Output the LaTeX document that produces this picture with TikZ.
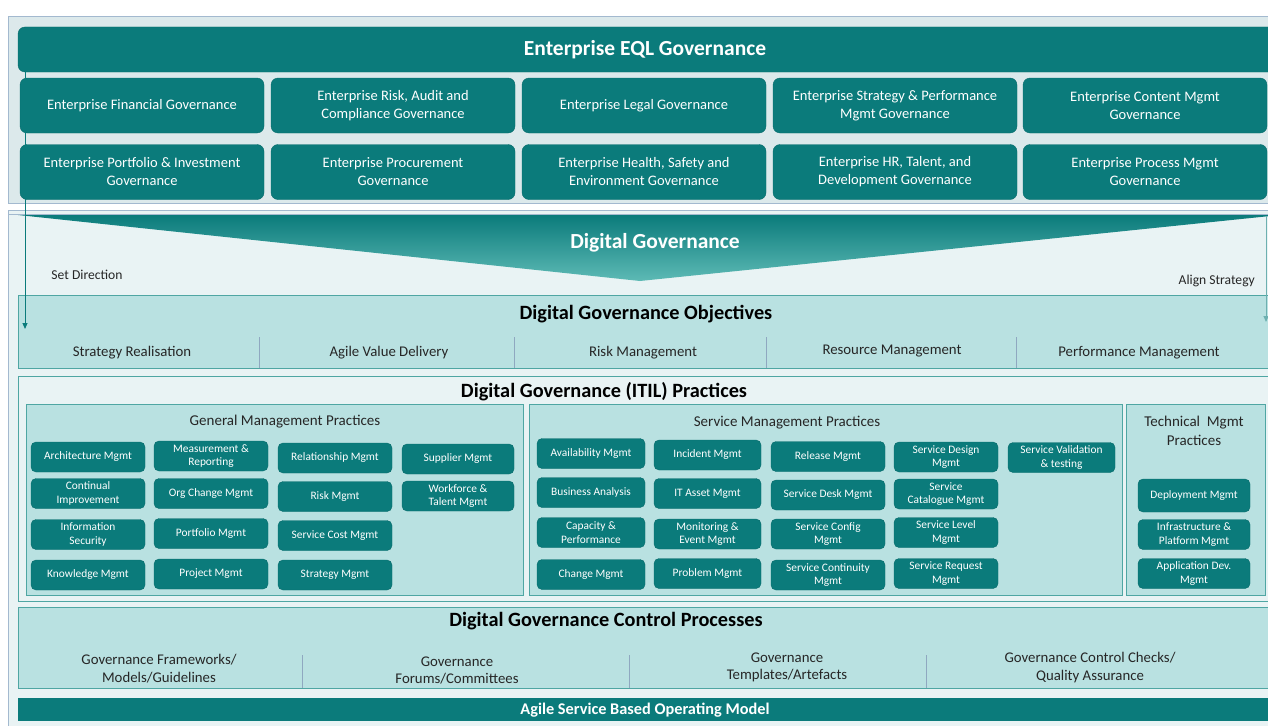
\documentclass[tikz,border=0pt]{standalone}
\usepackage{fontspec}
\setmainfont{Carlito}
\usetikzlibrary{arrows.meta}
\definecolor{teal1}{HTML}{0B7B7B}
\definecolor{tealedge}{HTML}{076C6C}
\definecolor{tealsoft}{HTML}{5DBAB5}
\definecolor{panelA}{HTML}{DCE9EB}
\definecolor{frameB}{HTML}{A3B9CF}
\definecolor{lightT}{HTML}{B9E1E1}
\definecolor{paleT}{HTML}{E9F3F4}
\definecolor{edgeT}{HTML}{4FA6A3}
\definecolor{txt}{HTML}{262626}
\definecolor{sepc}{HTML}{8FA8C0}
\begin{document}
\begin{tikzpicture}[x=1pt,y=-1pt,
  ebox/.style={draw=tealedge, fill=teal1, rounded corners=7pt, text=white, align=center,
    inner sep=0pt, minimum width=244pt, minimum height=55pt, font=\fontsize{14.5}{18}\selectfont},
  pbox/.style={draw=tealedge, fill=teal1, rounded corners=5pt, text=white, align=center,
    inner sep=0pt, minimum height=30pt, font=\fontsize{11.4}{13.6}\selectfont},
  lbl/.style={text=txt, align=center, inner sep=0pt, font=\fontsize{14.8}{17.5}\selectfont},
  small/.style={text=txt, inner sep=0pt, font=\fontsize{13.6}{16}\selectfont},
  head/.style={text=black, inner sep=0pt, font=\bfseries\fontsize{20.3}{24}\selectfont},
  whead/.style={text=white, inner sep=0pt, font=\bfseries\fontsize{21.5}{25}\selectfont},
  sub/.style={text=txt, inner sep=0pt, align=center, font=\fontsize{15}{18.5}\selectfont},
  panel/.style={draw=edgeT, line width=0.9pt},
  sep/.style={draw=sepc, line width=0.6pt},
  flow/.style={draw=teal1, line width=1pt, -{Triangle[length=6pt,width=5pt]}}
]
\useasboundingbox (0,0) rectangle (1268,725);
\fill[white] (0,0) rectangle (1268,725);

% ---------- top panel ----------
\draw[fill=panelA, draw=frameB, line width=0.8pt] (8,16) rectangle (1280,203);
\draw[fill=teal1, draw=tealedge, rounded corners=7pt] (18,27) rectangle (1285,72);
\node[whead] (eql) at (645,50) {Enterprise EQL Governance};

\node[ebox] (e1) at (142,105.5) {Enterprise Financial Governance};
\node[ebox] (e2) at (393,105.5) {Enterprise Risk, Audit and\\Compliance Governance};
\node[ebox] (e3) at (644,105.5) {Enterprise Legal Governance};
\node[ebox] (e4) at (895,105.5) {Enterprise Strategy \& Performance\\Mgmt Governance};
\node[ebox] (e5) at (1145,105.5) {Enterprise Content Mgmt\\Governance};
\node[ebox] (e6) at (142,172) {Enterprise Portfolio \& Investment\\Governance};
\node[ebox] (e7) at (393,172) {Enterprise Procurement\\Governance};
\node[ebox] (e8) at (644,172) {Enterprise Health, Safety and\\Environment Governance};
\node[ebox] (e9) at (895,172) {Enterprise HR, Talent, and\\Development Governance};
\node[ebox] (e10) at (1145,172) {Enterprise Process Mgmt\\Governance};

% ---------- lower frame ----------
\draw[fill=paleT, draw=frameB, line width=0.8pt] (8,210) rectangle (1280,735);
\draw[frameB, line width=0.6pt] (8,214) -- (1280,214);
\shade[top color=teal1, bottom color=tealsoft] (18,215) -- (1280,215) -- (640,281) -- cycle;
\node[whead] (dg) at (655,243) {Digital Governance};
\node[small] (setdir) at (87,275) {Set Direction};
\node[small, anchor=east] (align) at (1255,281) {Align Strategy};

% ---------- objectives ----------
\draw[panel, fill=lightT] (18,295) rectangle (1280,368);
\node[head] (obj) at (646,314) {Digital Governance Objectives};
\draw[sep] (259,337) -- (259,368);
\draw[sep] (514,337) -- (514,368);
\draw[sep] (766,337) -- (766,368);
\draw[sep] (1016,337) -- (1016,368);
\node[lbl] (o1) at (132,353) {Strategy Realisation};
\node[lbl] (o2) at (389,353) {Agile Value Delivery};
\node[lbl] (o3) at (643,353) {Risk Management};
\node[lbl] (o4) at (892,351) {Resource Management};
\node[lbl] (o5) at (1139,353) {Performance Management};

% ---------- ITIL practices ----------
\draw[panel, fill=paleT] (18,376) rectangle (1280,601);
\node[head] (itil) at (604,392) {Digital Governance (ITIL) Practices};
\draw[panel, fill=lightT] (26,404) rectangle (523,595);
\draw[panel, fill=lightT] (529,404) rectangle (1122,595);
\draw[panel, fill=lightT] (1126,404) rectangle (1265,595);
\node[sub] (gmp) at (285,422) {General Management Practices};
\node[sub] (smp) at (787,423) {Service Management Practices};
\node[sub] (tmp) at (1194,431) {Technical\ \ Mgmt\\Practices};

% general
\node[pbox, minimum width=114pt] (g1) at (88,457) {Architecture Mgmt};
\node[pbox, minimum width=114pt] (g2) at (211,456) {Measurement \&\\Reporting};
\node[pbox, minimum width=114pt] (g3) at (335,458) {Relationship Mgmt};
\node[pbox, minimum width=112pt] (g4) at (458,459) {Supplier Mgmt};
\node[pbox, minimum width=114pt] (g5) at (88,493.5) {Continual\\Improvement};
\node[pbox, minimum width=114pt] (g6) at (211,493.5) {Org Change Mgmt};
\node[pbox, minimum width=114pt] (g7) at (335,496.5) {Risk Mgmt};
\node[pbox, minimum width=112pt] (g8) at (458,496) {Workforce \&\\Talent Mgmt};
\node[pbox, minimum width=114pt] (g9) at (88,534.5) {Information\\Security};
\node[pbox, minimum width=114pt] (g10) at (211,533.5) {Portfolio Mgmt};
\node[pbox, minimum width=114pt] (g11) at (335,535.5) {Service Cost Mgmt};
\node[pbox, minimum width=114pt] (g12) at (88,575) {Knowledge Mgmt};
\node[pbox, minimum width=114pt] (g13) at (211,574) {Project Mgmt};
\node[pbox, minimum width=114pt] (g14) at (335,575) {Strategy Mgmt};

% service
\node[pbox, minimum width=108pt] (s1) at (591,453.5) {Availability Mgmt};
\node[pbox, minimum width=107pt] (s2) at (707.5,455) {Incident Mgmt};
\node[pbox, minimum width=114pt] (s3) at (828,456.5) {Release Mgmt};
\node[pbox, minimum width=104pt] (s4) at (946,457) {Service Design\\Mgmt};
\node[pbox, minimum width=107pt] (s5) at (1061.5,457.5) {Service Validation\\\& testing};
\node[pbox, minimum width=108pt] (s6) at (591,492.5) {Business Analysis};
\node[pbox, minimum width=107pt] (s7) at (707.5,493.5) {IT Asset Mgmt};
\node[pbox, minimum width=114pt] (s8) at (828,495) {Service Desk Mgmt};
\node[pbox, minimum width=104pt] (s9) at (946,494) {Service\\Catalogue Mgmt};
\node[pbox, minimum width=108pt] (s10) at (591,532.5) {Capacity \&\\Performance};
\node[pbox, minimum width=107pt] (s11) at (707.5,534) {Monitoring \&\\Event Mgmt};
\node[pbox, minimum width=114pt] (s12) at (828,534) {Service Config\\Mgmt};
\node[pbox, minimum width=104pt] (s13) at (946,532.5) {Service Level\\Mgmt};
\node[pbox, minimum width=108pt] (s14) at (591,574.5) {Change Mgmt};
\node[pbox, minimum width=107pt] (s15) at (707.5,573.5) {Problem Mgmt};
\node[pbox, minimum width=114pt] (s16) at (828,575) {Service Continuity\\Mgmt};
\node[pbox, minimum width=104pt] (s17) at (946,573.5) {Service Request\\Mgmt};

% technical
\node[pbox, minimum width=112pt, minimum height=33pt] (t1) at (1194,495.5) {Deployment Mgmt};
\node[pbox, minimum width=112pt] (t2) at (1194,534.5) {Infrastructure \&\\Platform Mgmt};
\node[pbox, minimum width=112pt] (t3) at (1194,573.5) {Application Dev.\\Mgmt};

% ---------- control processes ----------
\draw[panel, fill=lightT] (18,607) rectangle (1280,688);
\node[head] (ctrl) at (606,621) {Digital Governance Control Processes};
\draw[sep] (302,655) -- (302,688);
\draw[sep] (629,655) -- (629,688);
\draw[sep] (926,655) -- (926,688);
\node[lbl] (c1) at (159,668.5) {Governance Frameworks/\\Models/Guidelines};
\node[lbl] (c2) at (457,670.5) {Governance\\Forums/Committees};
\node[lbl] (c3) at (787,667.5) {Governance\\Templates/Artefacts};
\node[lbl] (c4) at (1090,667.5) {Governance Control Checks/\\Quality Assurance};

% ---------- bottom bar ----------
\fill[teal1] (18,698) rectangle (1280,721);
\node[text=white, inner sep=0pt, font=\bfseries\fontsize{16.3}{19}\selectfont] (asbom) at (645,710) {Agile Service Based Operating Model};

% ---------- direction arrows ----------
\coordinate (la) at (25,72);
\coordinate (lb) at (25,329);
\coordinate (ra) at (1266,216);
\coordinate (rb) at (1266,322);
\draw[flow] (la) -- (lb);
\draw[flow, draw=teal1!60] (ra) -- (rb);
\end{tikzpicture}
\end{document}
